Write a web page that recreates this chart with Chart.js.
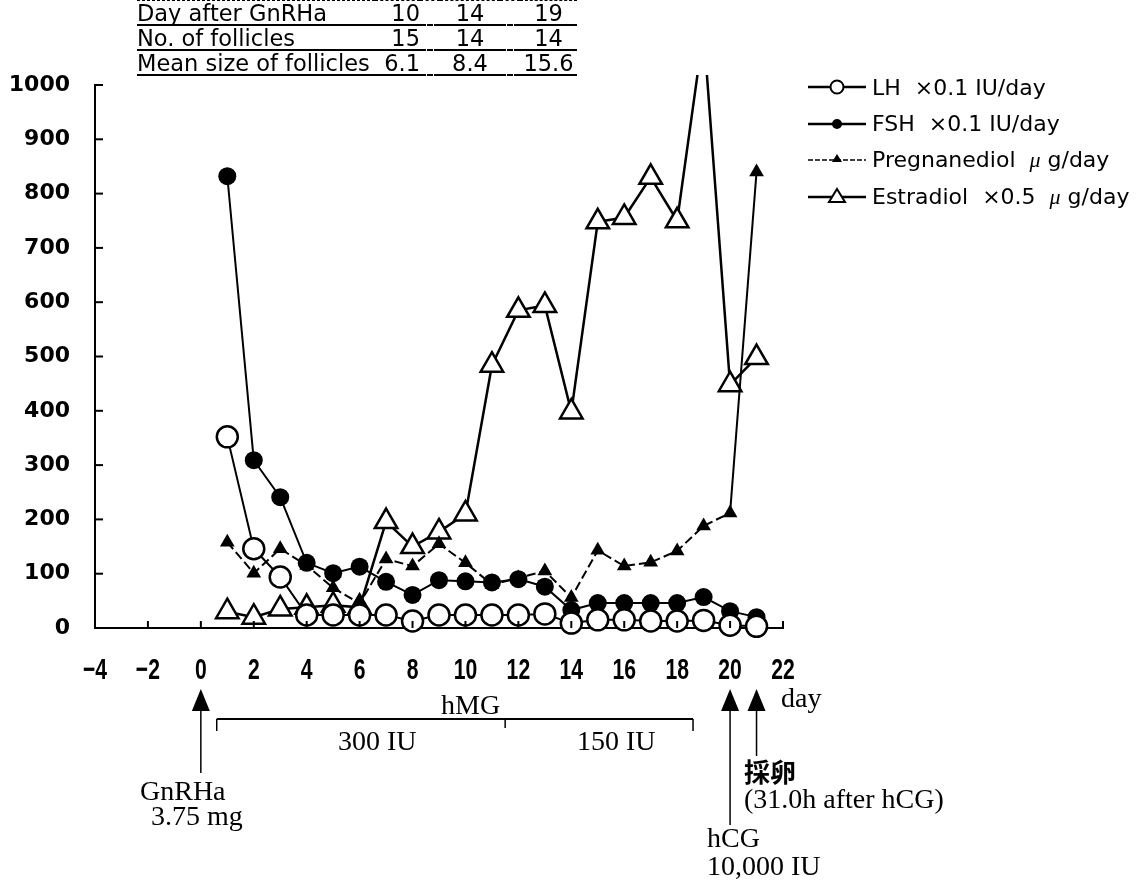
<!DOCTYPE html>
<html>
<head>
<meta charset="utf-8">
<script src="https://cdn.jsdelivr.net/npm/chart.js@4.4.0/dist/chart.umd.min.js"></script>
<style>
  body { margin: 0; background: #fff; }
  #wrap { position: relative; width: 1148px; height: 883px; overflow: hidden; background: #fff; }
  #chart { position: absolute; left: 0; top: 0; }
  .t { position: absolute; white-space: nowrap; color: #000; line-height: 1; transform: translateY(-50%); }
  .serif { font-family: "Liberation Serif", "Times New Roman", serif; font-size: 28px; }
  .cjk { font-family: "Noto Sans CJK JP", sans-serif; font-weight: 700; font-size: 26px; }
  #tbl { position: absolute; left: 137px; top: 0px; border-collapse: collapse;
         font-family: "DejaVu Sans", sans-serif; font-size: 22.5px; color: #000; }
  #tbl td { padding: 0; height: 23px; line-height: 22px; vertical-align: bottom; }
  #tbl tr:first-child td { border-top: 1px dashed #000; }
  #tbl td.s { border-bottom: 2px solid #000; }
  #tbl td.g { border-bottom: 2px dashed #000; width: 20px; }
  #legend { position: absolute; left: 808px; top: 69px; font-family: "DejaVu Sans", sans-serif; font-size: 22px; }
  .row { display: flex; align-items: center; height: 36.5px; }
  .row svg { margin-right: 6px; }
  .mu { font-family: "Liberation Serif", serif; font-style: italic; }
</style>
</head>
<body>
<div id="wrap">
  <canvas id="chart" width="1148" height="883"></canvas>
  <table id="tbl"></table>
  <div id="legend"></div>
  <div class="t serif" style="left:781px; top:698px;">day</div>
  <div class="t serif" style="left:441px; top:705px;">hMG</div>
  <div class="t serif" style="left:338px; top:741px;">300 IU</div>
  <div class="t serif" style="left:577px; top:741px;">150 IU</div>
  <div class="t serif" style="left:140px; top:791px;">GnRHa</div>
  <div class="t serif" style="left:151px; top:816px;">3.75 mg</div>
  <div class="t serif" style="left:707px; top:838px;">hCG</div>
  <div class="t serif" style="left:707px; top:866px;">10,000 IU</div>
  <div class="t cjk" style="left:744px; top:771px;">採卵</div>
  <div class="t serif" style="left:744px; top:799px;">(31.0h after hCG)</div>
</div>
<script>
const days = [1, 2, 3, 4, 5, 6, 7, 8, 9, 10, 11, 12, 13, 14, 15, 16, 17, 18, 19, 20, 21];
const lhValues = [352, 146, 94, 24, 24, 24, 24, 13, 24, 24, 24, 24, 26, 9, 15, 15, 13, 13, 14, 5, 3];
const fshValues = [832, 309, 241, 120, 101, 113, 85, 61, 88, 86, 84, 90, 76, 33, 46, 46, 46, 46, 57, 31, 20];
const pregValues = [158, 101, 146, 115, 74, 45, 127, 114, 155, 120, 80, 92, 105, 56, 143, 114, 121, 142, 188, 212, 840];
const e2Values = [30, 20, 35, 38, 42, 38, 196, 150, 177, 210, 484, 585, 594, 398, 748, 756, 830, 750, 1100, 448, 498];

const dayTicks = [-4, -2, 0, 2, 4, 6, 8, 10, 12, 14, 16, 18, 20, 22];
const yTicks = [0, 100, 200, 300, 400, 500, 600, 700, 800, 900, 1000];

const tableDays = ['10', '14', '19'];
const follicleCounts = ['15', '14', '14'];
const follicleSizes = ['6.1', '8.4', '15.6'];

const gnrhDay = 0, hcgDay = 20, opuDay = 21;
const hmgStart = 0.6, hmgSwitch = 11.5, hmgEnd = 18.6;

// follicle table
function buildTable() {
    const rows = [['Day after GnRHa', tableDays], ['No. of follicles', follicleCounts], ['Mean size of follicles', follicleSizes]];
    const tbl = document.getElementById('tbl');
    tbl.innerHTML = rows.map(r => `
        <tr>
          <td class="s" style="width:238px">${r[0]}</td>
          <td class="s" style="width:45px;text-align:right">${r[1][0]}</td>
          <td class="g"></td>
          <td class="s" style="width:60px;text-align:center">${r[1][1]}</td>
          <td class="g"></td>
          <td class="s" style="width:57px;text-align:center">${r[1][2]}</td>
        </tr>`).join('');
}

// legend with line + marker samples
function buildLegend() {
    const items = [
        { label: 'LH&nbsp;&nbsp;×0.1 IU/day', mark: '<circle cx="29" cy="10" r="6.5" fill="#fff" stroke="#000" stroke-width="2"/>', dash: '' },
        { label: 'FSH&nbsp;&nbsp;×0.1 IU/day', mark: '<circle cx="29" cy="10" r="5" fill="#000"/>', dash: '' },
        { label: 'Pregnanediol&nbsp;&nbsp;<span class="mu">μ</span>&nbsp;g/day', mark: '<path d="M29 4 L34 12 L24 12 Z" fill="#000"/>', dash: 'stroke-dasharray="5 2"' },
        { label: 'Estradiol&nbsp;&nbsp;×0.5&nbsp;&nbsp;<span class="mu">μ</span>&nbsp;g/day', mark: '<path d="M29 2 L37 15 L21 15 Z" fill="#fff" stroke="#000" stroke-width="2"/>', dash: '' }
    ];
    document.getElementById('legend').innerHTML = items.map(it => `
        <div class="row">
          <svg width="58" height="20"><line x1="0" y1="10" x2="58" y2="10" stroke="#000" stroke-width="${it.dash ? 1.5 : 2.5}" ${it.dash}/>${it.mark}</svg>
          <span>${it.label}</span>
        </div>`).join('');
}

const decor = {
    id: 'decor',
    afterDraw(chart) {
        const { ctx, chartArea: a, scales: { x, y } } = chart;
        ctx.save();
        ctx.strokeStyle = '#000';
        ctx.fillStyle = '#000';
        ctx.lineWidth = 2;
        const line = (x1, y1, x2, y2) => { ctx.beginPath(); ctx.moveTo(x1, y1); ctx.lineTo(x2, y2); ctx.stroke(); };
        // inward ticks
        dayTicks.forEach(v => { const px = x.getPixelForValue(v); line(px, a.bottom, px, a.bottom - 7); });
        yTicks.forEach(v => { const py = y.getPixelForValue(v); line(a.left, py, a.left + 8, py); });
        // day labels, tall and narrow like the original
        ctx.font = 'bold 23px "Liberation Sans", Arial, sans-serif';
        ctx.textAlign = 'center';
        ctx.textBaseline = 'middle';
        dayTicks.forEach(v => {
            const px = x.getPixelForValue(v);
            ctx.save();
            ctx.translate(px, 671);
            ctx.scale(0.92, 1.3);
            ctx.fillText(v < 0 ? '\u2212' + Math.abs(v) : String(v), 0, 0);
            ctx.restore();
        });
        // arrows
        ctx.lineWidth = 1.5;
        const arrow = (day, y1, y2) => {
            const px = x.getPixelForValue(day);
            ctx.beginPath();
            ctx.moveTo(px, y1); ctx.lineTo(px + 9, y1 + 22); ctx.lineTo(px - 9, y1 + 22);
            ctx.closePath(); ctx.fill();
            line(px, y1 + 20, px, y2);
        };
        arrow(gnrhDay, 689, 773);
        arrow(hcgDay, 689, 825);
        arrow(opuDay, 689, 756);
        // hMG bracket
        const b1 = x.getPixelForValue(hmgStart), b2 = x.getPixelForValue(hmgSwitch), b3 = x.getPixelForValue(hmgEnd);
        ctx.lineWidth = 2;
        line(b1, 719, b3, 719);
        ctx.lineWidth = 1.5;
        line(b1, 719, b1, 731);
        line(b2, 719, b2, 728);
        line(b3, 719, b3, 731);
        ctx.restore();
    }
};

function pts(values) {
    return values.map((v, i) => ({ x: days[i], y: v }));
}

const clipTop = { left: false, top: 10, right: false, bottom: false };
const lastPreg = pregValues.length - 1;

const chart = new Chart(document.getElementById('chart'), {
    type: 'line',
    data: {
        datasets: [
            {
                label: 'LH',
                data: pts(lhValues),
                borderColor: '#000', borderWidth: 2,
                pointStyle: 'circle', pointRadius: 10.5, pointBackgroundColor: '#fff',
                pointBorderColor: '#000', pointBorderWidth: 2.5,
                clip: clipTop
            },
            {
                label: 'FSH',
                data: pts(fshValues),
                borderColor: '#000', borderWidth: 2,
                pointStyle: 'circle', pointRadius: 9, pointBackgroundColor: '#000',
                pointBorderColor: '#000', pointBorderWidth: 0,
                clip: clipTop
            },
            {
                label: 'Pregnanediol',
                data: pts(pregValues),
                borderColor: '#000', borderWidth: 2, borderDash: [9, 4],
                segment: { borderDash: c => (c.p1DataIndex === lastPreg ? [] : undefined) },
                pointStyle: 'triangle', pointRadius: 8.5, pointBackgroundColor: '#000',
                pointBorderColor: '#000', pointBorderWidth: 0,
                clip: clipTop
            },
            {
                label: 'Estradiol',
                data: pts(e2Values),
                borderColor: '#000', borderWidth: 2.5,
                pointStyle: 'triangle', pointRadius: 13, pointBackgroundColor: '#fff',
                pointBorderColor: '#000', pointBorderWidth: 2.5,
                clip: clipTop
            }
        ]
    },
    options: {
        responsive: false,
        animation: false,
        devicePixelRatio: 1,
        layout: { padding: { top: 85, right: 365, left: 0, bottom: 0 } },
        plugins: { legend: { display: false }, tooltip: { enabled: false } },
        scales: {
            x: {
                type: 'linear', min: -4, max: 22,
                afterBuildTicks: s => { s.ticks = dayTicks.map(v => ({ value: v })); },
                afterFit: s => { s.height = 255; },
                grid: { display: false, drawTicks: false },
                border: { display: true, color: '#000', width: 2 },
                ticks: { display: false }
            },
            y: {
                type: 'linear', min: 0, max: 1000,
                afterBuildTicks: s => { s.ticks = yTicks.map(v => ({ value: v })); },
                afterFit: s => { s.width = 95; },
                grid: { display: false, drawTicks: false },
                border: { display: true, color: '#000', width: 2 },
                ticks: {
                    color: '#000', padding: 25,
                    font: { family: '"DejaVu Sans", sans-serif', size: 22, weight: 'bold' },
                    callback: v => String(v)
                }
            }
        }
    },
    plugins: [decor]
});

buildTable();
buildLegend();
</script>
</body>
</html>
